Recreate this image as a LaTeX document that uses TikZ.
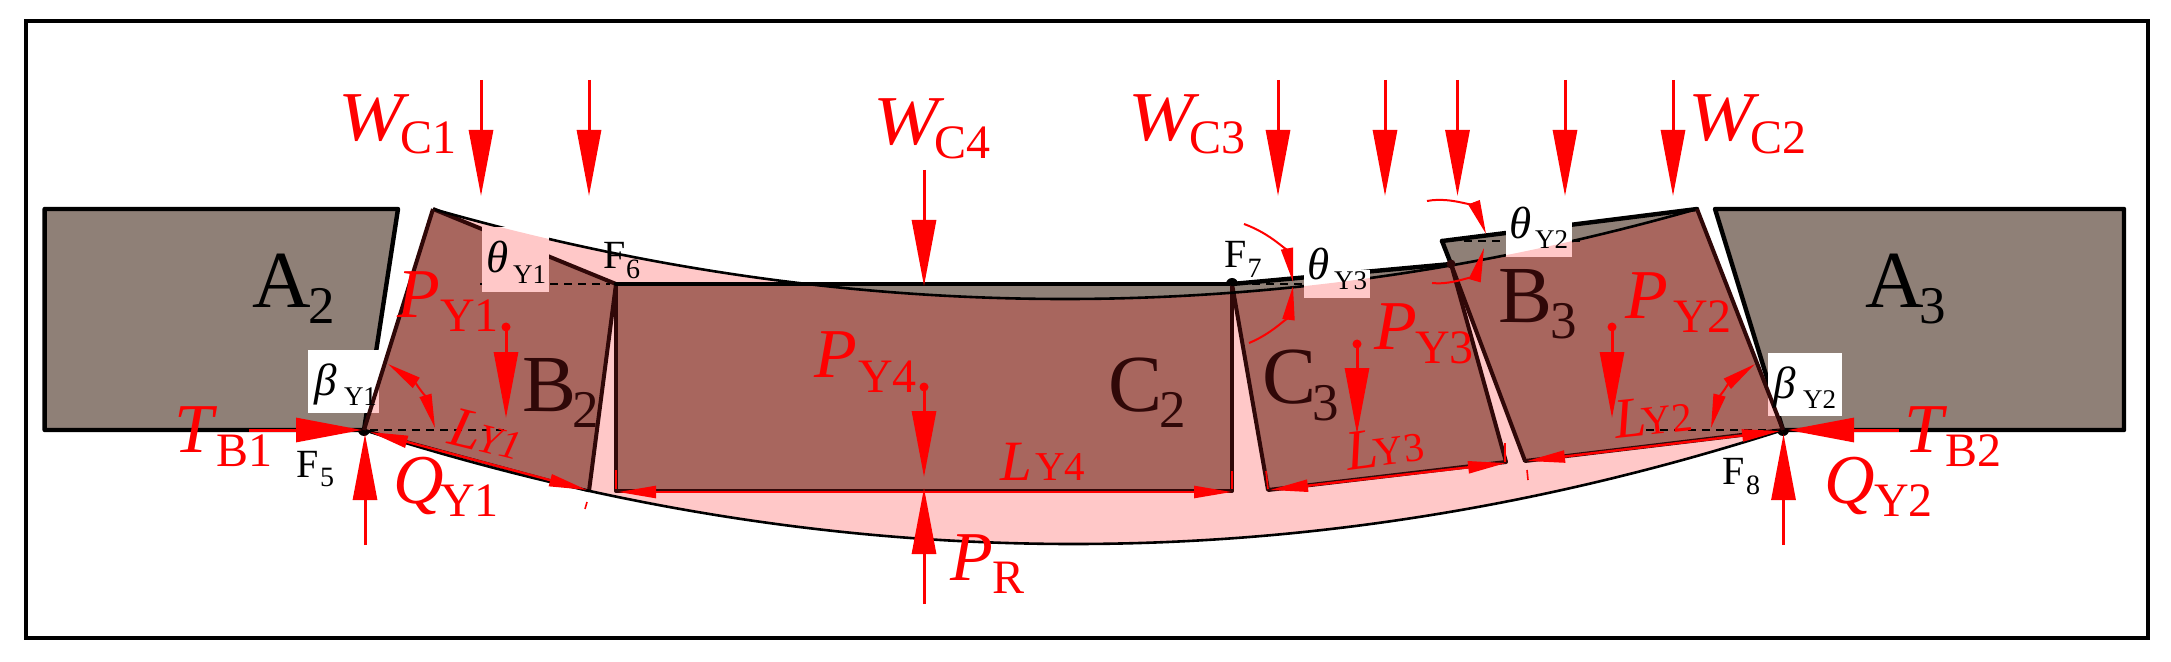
\documentclass[tikz,border=0pt]{standalone}
\usepackage{fontspec}
\setmainfont{Liberation Serif}
\usetikzlibrary{arrows.meta}
\definecolor{greyblock}{HTML}{8F8077}
\definecolor{brownblock}{HTML}{A8665E}
\definecolor{pinkband}{HTML}{FFC8C8}
\definecolor{darktext}{HTML}{300808}
\tikzset{
  lbl/.style={inner sep=0pt,outer sep=0pt,anchor=base west},
  redlab/.style={lbl,text=red,font=\fontsize{35}{35}\selectfont,execute at begin node={\def\subsz{24}}},
  lenlab/.style={lbl,text=red,font=\fontsize{28.5}{28.5}\selectfont,execute at begin node={\def\subsz{20.5}}},
  blocklab/.style={lbl,font=\fontsize{40.5}{40.5}\selectfont,execute at begin node={\def\subsz{26.5}}},
  pointlab/.style={lbl,font=\fontsize{20}{20}\selectfont,execute at begin node={\def\subsz{14}}},
  anglelab/.style={lbl,font=\fontsize{22.5}{22.5}\selectfont,execute at begin node={\def\subsz{13.5}}},
  force/.style={red,line width=1.5pt,-{Triangle[width=12pt,length=33pt]}},
  lenline/.style={red,line width=1.2pt,{Triangle[width=6pt,length=19pt]}-{Triangle[width=6pt,length=19pt]}},
  anglearc/.style={red,line width=1pt,-{Triangle[width=6pt,length=17pt]}},
  betaarc/.style={red,line width=1pt,{Triangle[width=6pt,length=17pt]}-{Triangle[width=6pt,length=17pt]}},
  edge/.style={black,line width=2.2pt,line join=round,line cap=round},
  voussoir/.style={darktext,line width=2pt,line join=round},
  thinarc/.style={black,line width=1.3pt},
  dashln/.style={black,line width=0.9pt,dash pattern=on 4pt off 3pt},
  tick/.style={red,line width=0.8pt},
  pivot/.style={circle,fill=black,inner sep=0pt,minimum size=6pt},
  smalldot/.style={circle,fill=red,inner sep=0pt,minimum size=4.5pt}
}
\newcommand{\lab}[7][redlab]{\node[#1] (#2) at (#3) {\makebox[\dimexpr#5pt/2\relax][l]{#4}\raisebox{-\dimexpr#6pt/2\relax}{\fontsize{\subsz}{\subsz}\selectfont #7}};}
\newcommand{\frc}[5]{\coordinate (#1s) at (#2); \coordinate (#1e) at (#3); \draw[#4] (#1s) #5 (#1e);}
\newcommand{\bandpath}{(pF5.center) -- (btl) .. controls (854.3,329) and (1275.7,329) .. (btr) -- (pF8.center) .. controls (1310.3,582) and (836.7,582) .. (pF5.center) -- cycle}
\newcommand{\WW}{\scalebox{1.12}[1]{\textit{W}}}
\begin{document}
\begin{tikzpicture}[x=0.5pt,y=-0.5pt]
\useasboundingbox (0,0) rectangle (2171,662);
\fill[white] (0,0) rectangle (2171,662);
\draw[black,line width=1.8pt] (26,21) rectangle (2148,638);
% vertices
\node[pivot] (pF5) at (364,430) {};
\node[pivot] (pF6) at (616,284) {};
\node[pivot] (pF7) at (1232,284) {};
\node[pivot] (pF8) at (1783,430) {};
\coordinate (a2a) at (44.6,209); \coordinate (a2b) at (398,209); \coordinate (a2c) at (44.6,430);
\coordinate (a3a) at (1715,209); \coordinate (a3b) at (2124,209); \coordinate (a3c) at (2124,430);
\coordinate (btl) at (433,209); \coordinate (btr) at (1697,209);
\coordinate (b2b) at (589,491);
\coordinate (c2b) at (1232,491); \coordinate (c2a) at (616,491);
\coordinate (c3a) at (1268,490); \coordinate (c3b) at (1506,462); \coordinate (c3c) at (1451,264);
\coordinate (b3a) at (1525,461); \coordinate (b3c) at (1442,241);
% grey
\fill[greyblock] (a2a) -- (a2b) -- (pF5.center) -- (a2c) -- cycle;
\fill[greyblock] (a3a) -- (a3b) -- (a3c) -- (pF8.center) -- cycle;
\fill[greyblock] (pF6.center) -- (pF7.center) -- (c2b) -- (c2a) -- cycle;
\fill[greyblock] (pF7.center) -- (c3c) -- (c3b) -- (c3a) -- cycle;
\fill[greyblock] (b3c) -- (btr) -- (pF8.center) -- (b3a) -- (c3c) -- cycle;
% band
\fill[pinkband] \bandpath;
\begin{scope}
\clip \bandpath;
\fill[brownblock] (pF5.center) -- (btl) -- (pF6.center) -- (b2b) -- cycle;
\fill[brownblock] (pF6.center) -- (pF7.center) -- (c2b) -- (c2a) -- cycle;
\fill[brownblock] (pF7.center) -- (c3c) -- (c3b) -- (c3a) -- cycle;
\fill[brownblock] (b3c) -- (btr) -- (pF8.center) -- (b3a) -- (c3c) -- cycle;
\end{scope}
% block outlines
\draw[edge] (pF5.center) -- (a2c) -- (a2a) -- (a2b) -- (pF5.center);
\draw[edge] (pF8.center) -- (a3c) -- (a3b) -- (a3a) -- (pF8.center);
\draw[voussoir] (btl) -- (pF6.center) -- (b2b);
\draw[voussoir] (pF6.center) -- (c2a) -- (c2b) -- (pF7.center);
\draw[edge] (pF6.center) -- (pF7.center);
\draw[voussoir] (pF7.center) -- (c3a) -- (c3b) -- (c3c);
\draw[edge] (pF7.center) -- (c3c);
\draw[voussoir] (c3c) -- (b3a) -- (pF8.center);
\draw[edge] (b3c) -- (btr);
\draw[edge] (b3c) -- (c3c);
% arcs
\draw[thinarc] (pF5.center) -- (b2b);
\draw[thinarc] (btl) .. controls (854.3,329) and (1275.7,329) .. (btr);
\draw[thinarc] (pF5.center) .. controls (836.7,582) and (1310.3,582) .. (pF8.center);
% dashed reference lines
\coordinate (d1) at (480,284); \draw[dashln] (d1) -- (pF6);
\coordinate (d5) at (504,430); \draw[dashln] (pF5) -- (d5);
\coordinate (d8) at (1646,430); \draw[dashln] (d8) -- (pF8);
\coordinate (d7) at (1304,284); \draw[dashln] (pF7) -- (d7);
\coordinate (d2a) at (1464,241); \coordinate (d2b) at (1506,241); \draw[dashln] (d2a) -- (d2b);
\coordinate (d2c) at (1572,241); \coordinate (d2d) at (1581,241); \draw[dashln] (d2c) -- (d2d);
% label boxes
\fill[white] (482,227) rectangle (549,292);
\fill[white] (1304,270) rectangle (1370,298);
\fill[white] (1506,221) rectangle (1572,257);
\fill[white] (308,350) rectangle (379,412.5);
\fill[white] (1768,353) rectangle (1841.5,416);
\begin{scope}
\clip \bandpath;
\fill[pinkband] (482,227) rectangle (549,292);
\fill[pinkband] (1304,270) rectangle (1370,298);
\fill[pinkband] (1506,221) rectangle (1572,257);
\fill[pinkband] (308,350) rectangle (379,412.5);
\fill[pinkband] (1768,353) rectangle (1841.5,416);
\end{scope}
\draw[voussoir] (pF5.center) -- (btl);
\draw[voussoir] (pF8.center) -- (btr);
% ticks
\coordinate (t1a) at (587,502); \coordinate (t1b) at (585,509); \draw[tick] (t1a) -- (t1b);
\coordinate (t2a) at (616,470); \coordinate (t2b) at (616,489); \draw[tick] (t2a) -- (t2b);
\coordinate (t3a) at (1232,471); \coordinate (t3b) at (1232,489); \draw[tick] (t3a) -- (t3b);
\coordinate (t4a) at (1266,471); \coordinate (t4b) at (1268,489); \draw[tick] (t4a) -- (t4b);
\coordinate (t5a) at (1505,443); \coordinate (t5b) at (1505,462); \draw[tick] (t5a) -- (t5b);
\coordinate (t6a) at (1527,470); \coordinate (t6b) at (1528,480); \draw[tick] (t6a) -- (t6b);
% length arrows
\frc{l1}{370,432}{587,490}{lenline}{--}
\frc{l4}{618,492}{1232,492}{lenline}{--}
\frc{l3}{1270,490}{1506,463}{lenline}{--}
\frc{l2}{1527,461}{1780,431}{lenline}{--}
% angle arcs
\frc{b1}{388,364}{435,428}{betaarc}{to[bend left=20]}
\frc{b2}{1755,364}{1711,428}{betaarc}{to[bend right=20]}
\frc{h3a}{1244,224}{1293,282}{anglearc}{to[bend left=30]}
\frc{h3b}{1249,343}{1293,286}{anglearc}{to[bend right=30]}
\frc{h2a}{1427,201}{1486,234}{anglearc}{to[bend left=40]}
\frc{h2b}{1432,283}{1484,248}{anglearc}{to[bend right=40]}
% forces
\frc{w1}{481,80}{481,196}{force}{--}
\frc{w2}{589,80}{589,196}{force}{--}
\frc{w3}{924,170}{924,286}{force}{--}
\frc{w4}{1278,80}{1278,196}{force}{--}
\frc{w5}{1385,80}{1385,196}{force}{--}
\frc{w6}{1457.5,80}{1457.5,196}{force}{--}
\frc{w7}{1565,80}{1565,196}{force}{--}
\frc{w8}{1673,80}{1673,196}{force}{--}
\node[smalldot] (dY1) at (506,327) {}; \coordinate (pY1e) at (506,418); \draw[force] (dY1.center) -- (pY1e);
\node[smalldot] (dY4) at (924,387) {}; \coordinate (pY4e) at (924,477); \draw[force] (dY4.center) -- (pY4e);
\node[smalldot] (dY3) at (1357,344) {}; \coordinate (pY3e) at (1357,434); \draw[force] (dY3.center) -- (pY3e);
\node[smalldot] (dY2) at (1612,327) {}; \coordinate (pY2e) at (1612,418); \draw[force] (dY2.center) -- (pY2e);
\frc{pr}{924,604}{924,488}{force}{--}
\frc{q1}{365,545}{365,434}{force}{--}
\frc{q2}{1783.5,545}{1783.5,434}{force}{--}
\frc{tb1}{249,430}{362,430}{force}{--}
\frc{tb2}{1899,430}{1788,430}{force}{--}
\node[circle,fill=darktext,inner sep=0pt,minimum size=4.5pt] (pC) at (1451,264) {};
% labels
\lab{lWC1}{338,141}{\WW}{62}{13}{C1}
\lab{lWC4}{873,144.6}{\WW}{61}{14}{C4}
\lab{lWC3}{1128,141}{\WW}{61}{13}{C3}
\lab{lWC2}{1688,141}{\WW}{62}{13}{C2}
\lab{lTB1}{174,452}{\textit{T}}{42}{14}{B1}
\lab{lTB2}{1904,452}{\textit{T}}{41}{14}{B2}
\lab{lQY1}{393,503.6}{\textit{Q}}{47}{13}{Y1}
\lab{lQY2}{1824,503.6}{\textit{Q}}{50}{13}{Y2}
\lab{lPY1}{397,318}{\textit{P}}{43}{14}{Y1}
\lab{lPY4}{814,377}{\textit{P}}{44}{15}{Y4}
\lab{lPY3}{1374,350}{\textit{P}}{41}{14}{Y3}
\lab{lPY2}{1625,318.6}{\textit{P}}{48}{14}{Y2}
\lab{lPR}{950,580}{\textit{P}}{42}{13}{R}
\lab[lenlab]{lLY4}{1000,480}{\textit{L}}{35}{0}{Y4}
\lab[lenlab,rotate=7]{lLY3}{1348,470}{\textit{L}}{28}{0}{Y3}
\lab[lenlab,rotate=6]{lLY2}{1616,438.6}{\textit{L}}{28}{0}{Y2}
\lab[lenlab,rotate=-14]{lLY1}{446,443}{\textit{L}}{30}{0}{\textit{Y1}}
\lab[blocklab]{lA2}{252,307}{A}{56}{16}{2}
\lab[blocklab]{lA3}{1865,307}{A}{54}{16}{3}
\lab[blocklab,text=darktext]{lB2}{522,411}{B}{50}{16}{2}
\lab[blocklab,text=darktext]{lB3}{1498,322}{B}{52}{17}{3}
\lab[blocklab,text=darktext]{lC2}{1108.5,411}{C}{51}{16}{2}
\lab[blocklab,text=darktext]{lC3}{1262.5,403.6}{C}{50}{17}{3}
\lab[pointlab]{lF5}{296,477}{F}{24}{9}{5}
\lab[pointlab]{lF6}{603,268.6}{F}{23}{10}{6}
\lab[pointlab]{lF7}{1224.5,268}{F}{23}{10}{7}
\lab[pointlab]{lF8}{1722,484}{F}{24}{10}{8}
\lab[anglelab]{lT1}{486,273}{\textit{θ}}{27}{11}{Y1}
\lab[anglelab]{lT3}{1307,280}{\textit{θ}}{27}{10}{Y3}
\lab[anglelab]{lT2}{1509,239}{\textit{θ}}{26}{10}{Y2}
\lab[anglelab]{lB1}{314,395}{\textit{β}}{30}{10}{Y1}
\lab[anglelab]{lBe2}{1773,398}{\textit{β}}{30}{11}{Y2}
\end{tikzpicture}
\end{document}
